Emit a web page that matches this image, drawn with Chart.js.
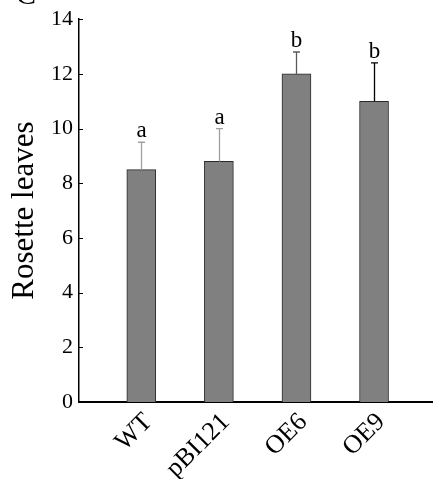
<!DOCTYPE html>
<html>
<head>
<meta charset="utf-8">
<script src="https://cdn.jsdelivr.net/npm/chart.js@4.4.1/dist/chart.umd.min.js"></script>
<style>
html,body{margin:0;padding:0;background:#fff;}
#wrap{position:relative;width:433px;height:479px;}
</style>
</head>
<body>
<div id="wrap"><canvas id="c" width="433" height="479"></canvas></div>
<script>
const categories = ['WT', 'pBI121', 'OE6', 'OE9'];
const positions = [1, 2, 3, 4];
const values = [8.5, 8.8, 12.0, 11.0];
const errorTops = [9.5, 10.0, 12.8, 12.4];
const letters = ['a', 'a', 'b', 'b'];
const yTicks = [0, 2, 4, 6, 8, 10, 12, 14];
const errorColors = ['#a0a0a0', '#a0a0a0', '#5a5a5a', '#000000'];
const SERIF = "'Liberation Serif', 'Times New Roman', serif";

const overlay = {
  id: 'overlay',
  afterDatasetsDraw(chart) {
    const ctx = chart.ctx;
    const xs = chart.scales.x, ys = chart.scales.y;
    ctx.save();
    positions.forEach((p, i) => {
      const x = Math.round(xs.getPixelForValue(p)) + 0.5;
      const yb = ys.getPixelForValue(values[i]);
      const yt = ys.getPixelForValue(errorTops[i]);
      ctx.strokeStyle = errorColors[i];
      ctx.lineWidth = 1.3;
      ctx.beginPath();
      ctx.moveTo(x, yb); ctx.lineTo(x, yt);
      ctx.moveTo(x - 3.5, yt); ctx.lineTo(x + 3.5, yt);
      ctx.stroke();
      ctx.fillStyle = '#000';
      ctx.font = '23px ' + SERIF;
      ctx.textAlign = 'center';
      ctx.textBaseline = 'alphabetic';
      ctx.fillText(letters[i], x, yt - 5);
    });
    ctx.strokeStyle = '#000';
    ctx.lineWidth = 1;
    yTicks.forEach(v => {
      const y = Math.round(ys.getPixelForValue(v)) + 0.5;
      ctx.beginPath();
      ctx.moveTo(xs.left, y); ctx.lineTo(xs.left + 4, y);
      ctx.stroke();
    });
    ctx.fillStyle = '#000';
    ctx.font = '30px ' + SERIF;
    ctx.textAlign = 'left';
    ctx.fillText('C', 16, 4);
    ctx.restore();
  }
};

new Chart(document.getElementById('c'), {
  type: 'bar',
  data: {
    datasets: [{
      data: positions.map((p, i) => ({ x: p, y: values[i] })),
      backgroundColor: '#808080',
      borderColor: '#2a2a2a',
      borderWidth: 1,
      barThickness: 29
    }]
  },
  options: {
    responsive: false,
    animation: false,
    devicePixelRatio: 1,
    layout: { padding: { top: 15, right: 0, left: 0, bottom: 0 } },
    plugins: { legend: { display: false }, tooltip: { enabled: false } },
    scales: {
      x: {
        type: 'linear',
        offset: false,
        min: 0.197,
        max: 4.76,
        grid: { display: false, drawTicks: false, offset: false },
        border: { display: true, color: '#000', width: 2 },
        afterBuildTicks(scale) { scale.ticks = positions.map(v => ({ value: v })); },
        afterFit(scale) { scale.height = 77; },
        ticks: {
          autoSkip: false,
          maxRotation: 45,
          minRotation: 45,
          padding: 5,
          labelOffset: 7,
          color: '#000',
          font: { family: SERIF, size: 26 },
          callback: (v) => { const i = positions.indexOf(v); return i >= 0 ? categories[i] : ''; }
        }
      },
      y: {
        min: 0,
        max: 14,
        grid: { display: false, drawTicks: false },
        border: { display: true, color: '#000', width: 1.5 },
        afterBuildTicks(scale) { scale.ticks = yTicks.map(v => ({ value: v })); },
        afterFit(scale) { scale.width = 79; },
        ticks: {
          padding: 6,
          color: '#000',
          font: { family: SERIF, size: 22 }
        },
        title: {
          display: true,
          text: 'Rosette leaves',
          color: '#000',
          font: { family: SERIF, size: 31 },
          padding: { top: 6, bottom: 0 }
        }
      }
    }
  },
  plugins: [overlay]
});
</script>
</body>
</html>
